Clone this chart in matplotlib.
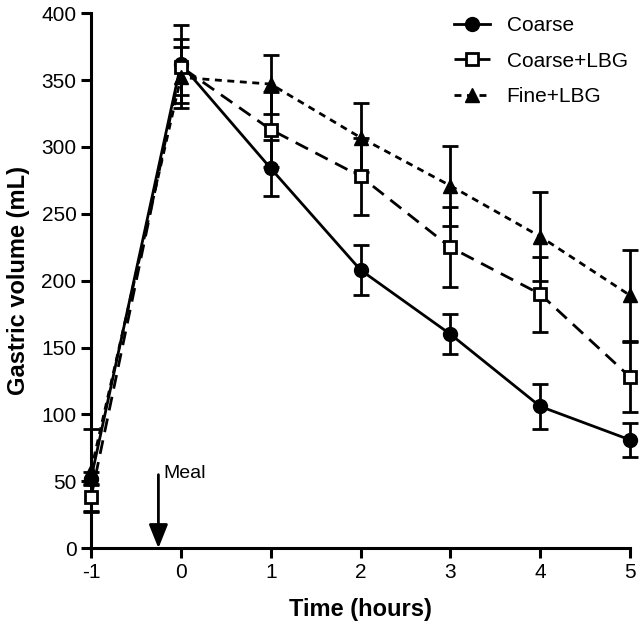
"""
Gastric volume over time for three meal types
"""
import numpy as np
import matplotlib.pyplot as plt

plt.rcParams['font.family'] = ['Liberation Sans', 'DejaVu Sans']
plt.rcParams['axes.unicode_minus'] = False

time_h = [-1, 0, 1, 2, 3, 4, 5]

coarse = [52, 362, 284, 208, 160, 106, 81]
coarse_err = [5, 29, 21, 19, 15, 17, 13]

coarse_lbg = [38, 360, 313, 278, 225, 190, 128]
coarse_lbg_err = [10, 21, 28, 29, 30, 28, 26]

fine_lbg = [58, 352, 347, 307, 271, 233, 189]
fine_lbg_err = [31, 23, 22, 26, 30, 33, 34]

MEAL_X = -0.25


def main():
    fig = plt.figure(figsize=(6.41, 6.28), dpi=100)
    ax = fig.add_axes([0.142, 0.127, 0.841, 0.852])

    common = dict(color='black', ecolor='black', elinewidth=2, capsize=6,
                  capthick=2, clip_on=False, zorder=3)
    c1 = ax.errorbar(time_h, coarse, yerr=coarse_err, fmt='-o', lw=2,
                     ms=10, mfc='black', mec='black', **common)
    c2 = ax.errorbar(time_h, coarse_lbg, yerr=coarse_lbg_err, fmt='--s', lw=2,
                     dashes=(5, 3), ms=9, mfc='white', mec='black', mew=2,
                     **common)
    c3 = ax.errorbar(time_h, fine_lbg, yerr=fine_lbg_err, fmt=':^', lw=2,
                     dashes=(2.5, 2), ms=9.5, mfc='black', mec='black',
                     **common)

    # meal marker
    ax.annotate('', xy=(MEAL_X, 0), xytext=(MEAL_X, 55),
                arrowprops=dict(arrowstyle='-|>,head_length=0.4,head_width=0.16',
                                color='black', lw=2, mutation_scale=36,
                                shrinkA=0, shrinkB=0))
    ax.text(MEAL_X + 0.06, 56, 'Meal', fontsize=14, va='center', ha='left')

    ax.set_xlim(-1, 5)
    ax.set_ylim(0, 400)
    ax.set_xticks(np.arange(-1, 6, 1))
    ax.set_yticks(np.arange(0, 401, 50))
    ax.spines['top'].set_visible(False)
    ax.spines['right'].set_visible(False)
    for s in ('left', 'bottom'):
        ax.spines[s].set_linewidth(2.2)
    ax.tick_params(width=2.2, length=7, labelsize=15, direction='out')

    ax.set_xlabel('Time (hours)', fontsize=17, fontweight='bold', labelpad=12)
    ax.set_ylabel('Gastric volume (mL)', fontsize=17, fontweight='bold', labelpad=8)

    ax.legend([c1[0], c2[0], c3[0]], ['Coarse', 'Coarse+LBG', 'Fine+LBG'],
              loc='upper right', frameon=False, fontsize=15, handlelength=1.7,
              labelspacing=0.8, bbox_to_anchor=(1.03, 1.03))

    fig.savefig('out.png', dpi=100)
    plt.close(fig)


if __name__ == "__main__":
    main()
